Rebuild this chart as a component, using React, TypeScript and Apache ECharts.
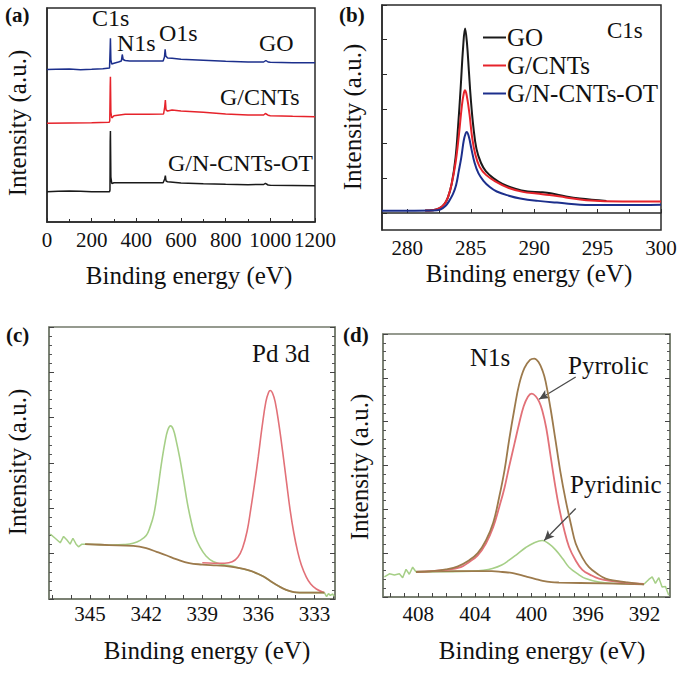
import React, { useEffect, useRef } from "react";
import * as echarts from "echarts";

const FONT = "Liberation Serif";

// ---------- (a) XPS survey spectra: [binding energy eV, intensity a.u.] ----------
const surveyGO: [number, number][] = [
  [0, 152.5], [40, 152.7], [100, 153], [150, 152.3], [200, 152.7], [250, 153.3], [280, 154],
  [283, 175], [284, 183.7], [286, 162], [290, 158], [300, 158.7], [320, 160], [333, 161],
  [337, 167.5], [341, 162.5], [350, 161.5], [370, 161], [450, 161], [520, 161], [526, 165],
  [529, 172.7], [532, 166], [540, 164], [560, 163.7], [600, 162.7], [700, 161.7], [800, 160.7],
  [900, 160], [970, 160], [980, 161.5], [990, 160], [1000, 159.7], [1100, 159.3], [1200, 159.3],
];
const surveyGCNTs: [number, number][] = [
  [0, 98.7], [100, 99], [200, 99.3], [278, 99.7], [281, 101], [283, 135], [284, 145.3],
  [286, 110], [290, 104], [300, 106.3], [350, 107.7], [450, 107.7], [522, 108], [527, 115],
  [530, 122], [533, 112], [540, 111], [560, 112], [600, 111], [700, 109.7], [800, 108],
  [900, 107], [970, 107], [978, 108.5], [990, 106.8], [1000, 106.3], [1100, 105.7], [1200, 105.3],
];
const surveyGNCNTs: [number, number][] = [
  [0, 30.3], [50, 30.7], [100, 31], [150, 30.7], [200, 30.3], [280, 30.3], [282, 32],
  [283, 80], [284, 91], [286, 45], [290, 38.5], [300, 39.3], [400, 39.3], [520, 39.3],
  [527, 43], [530, 46.3], [533, 41], [540, 40.3], [600, 39], [700, 38.3], [800, 37.7],
  [900, 37.3], [970, 37.5], [978, 38.7], [990, 37], [1000, 36.7], [1100, 36.5], [1200, 36.3],
];
const surveyTicks = { min: 0, max: 1200, interval: 200 };

// ---------- (b) C1s high resolution ----------
const c1sGO: [number, number][] = [
  [281.4, 0.07], [282.0, 0.08], [282.5, 0.13], [282.9, 0.25], [283.2, 0.45], [283.5, 0.85],
  [283.8, 1.6], [284.0, 2.5], [284.2, 3.6], [284.4, 4.8], [284.55, 5.32], [284.7, 4.9],
  [284.85, 4.1], [285.0, 3.3], [285.2, 2.5], [285.45, 1.85], [285.8, 1.45], [286.2, 1.2],
  [286.8, 1.0], [287.5, 0.84], [288.5, 0.7], [289.5, 0.62], [290.5, 0.6], [291.3, 0.57],
  [292.5, 0.48], [293.6, 0.42], [295.7, 0.35],
];
const c1sGCNTs: [number, number][] = [
  [281.4, 0.07], [282.0, 0.08], [282.5, 0.13], [282.9, 0.25], [283.2, 0.45], [283.5, 0.85],
  [283.8, 1.45], [284.05, 2.2], [284.3, 3.1], [284.45, 3.45], [284.55, 3.54], [284.7, 3.35],
  [284.9, 2.85], [285.1, 2.2], [285.35, 1.7], [285.7, 1.33], [286.2, 1.1], [287.0, 0.9],
  [288.0, 0.72], [289.1, 0.61], [290.2, 0.56], [291.2, 0.52], [292.5, 0.45], [294.1, 0.37],
  [297, 0.33], [300, 0.33],
];
const c1sGNCNTs: [number, number][] = [
  [278, 0.066], [280, 0.066], [282.0, 0.07], [282.6, 0.1], [283.0, 0.2], [283.3, 0.35],
  [283.6, 0.55], [283.84, 0.8], [284.05, 1.2], [284.25, 1.6], [284.45, 2.1], [284.6, 2.3],
  [284.68, 2.34], [284.85, 2.2], [285.05, 1.85], [285.3, 1.45], [285.6, 1.15], [286.0, 0.93],
  [286.5, 0.75], [287.05, 0.62], [288.0, 0.5], [288.9, 0.42], [290.3, 0.35], [291.8, 0.3],
  [294.4, 0.23], [297, 0.23], [300, 0.24],
];
const c1sLabels = [280, 285, 290, 295, 300];
const c1sTicks = [280, 282.5, 285, 287.5, 290, 292.5, 295, 297.5, 300];
const c1sYTicks = [0, 1, 2, 3, 4, 5, 6];

// ---------- (c) Pd 3d ----------
const pdNoiseLeft: [number, number][] = [
  [347.13, 1.43], [346.87, 1.34], [346.6, 1.24], [346.42, 1.38], [346.24, 1.3], [346.07, 1.21],
  [345.92, 1.34], [345.75, 1.21], [345.62, 1.15], [345.44, 1.21], [345.27, 1.21],
];
const pd3d32: [number, number][] = [
  [345.27, 1.21], [344.5, 1.2], [343.8, 1.19], [343.2, 1.2], [342.7, 1.23], [342.3, 1.3],
  [342.0, 1.4], [341.8, 1.58], [341.6, 1.85], [341.4, 2.35], [341.2, 2.95], [341.0, 3.45],
  [340.85, 3.72], [340.7, 3.82], [340.55, 3.74], [340.4, 3.5], [340.2, 3.1], [340.0, 2.62],
  [339.8, 2.12], [339.6, 1.72], [339.4, 1.4], [339.13, 1.15], [338.8, 0.95], [338.4, 0.82],
  [337.9, 0.76], [337.5, 0.73], [337.0, 0.68], [336.5, 0.63], [336.11, 0.57], [335.7, 0.49],
  [335.3, 0.38], [334.9, 0.28], [334.51, 0.2], [334.1, 0.15], [333.8, 0.14], [332.47, 0.14],
];
const pd3d52: [number, number][] = [
  [339.0, 0.8], [338.4, 0.79], [337.8, 0.79], [337.4, 0.82], [337.1, 0.92], [336.85, 1.12],
  [336.6, 1.5], [336.4, 2.0], [336.2, 2.55], [336.0, 3.15], [335.8, 3.8], [335.6, 4.35],
  [335.45, 4.56], [335.36, 4.6], [335.25, 4.55], [335.1, 4.35], [334.9, 3.85], [334.7, 3.25],
  [334.5, 2.6], [334.3, 1.96], [334.1, 1.45], [333.9, 1.05], [333.7, 0.75], [333.44, 0.49],
  [333.2, 0.33], [332.9, 0.22], [332.47, 0.14],
];
const pdBackground: [number, number][] = [
  [345.27, 1.21], [344.0, 1.19], [342.69, 1.17], [342.0, 1.12], [341.44, 1.04], [340.9, 0.96],
  [340.4, 0.88], [339.7, 0.79], [339.0, 0.76], [338.24, 0.74], [337.6, 0.72], [337.0, 0.68],
  [336.5, 0.63], [336.11, 0.57], [335.7, 0.49], [335.3, 0.38], [334.9, 0.28], [334.51, 0.2],
  [334.1, 0.15], [333.8, 0.14], [332.47, 0.14],
];
const pdNoiseRight: [number, number][] = [
  [332.47, 0.14], [332.35, 0.05], [332.25, 0.12], [332.15, 0.08], [332.02, 0.11], [331.95, 0.06],
];
const pdLabels = [345, 342, 339, 336, 333];
const pdTicks = [332, 333, 334, 335, 336, 337, 338, 339, 340, 341, 342, 343, 344, 345, 346, 347];

// ---------- (d) N1s ----------
const n1sNoiseLeft: [number, number][] = [
  [410.4, 0.46], [410.05, 0.53], [409.69, 0.5], [409.34, 0.53], [409.11, 0.44], [408.87, 0.63],
  [408.64, 0.52], [408.4, 0.68], [408.16, 0.57],
];
const n1sNoiseRight: [number, number][] = [
  [392.05, 0.29], [391.7, 0.4], [391.46, 0.46], [391.23, 0.31], [390.99, 0.44], [390.76, 0.23],
  [390.52, 0.24], [390.29, 0.04],
];
const n1sEnvelope: [number, number][] = [
  [408.16, 0.57], [407.0, 0.59], [406.05, 0.63], [405.2, 0.7], [404.4, 0.84], [403.8, 1.0],
  [403.22, 1.29], [402.7, 1.7], [402.28, 2.28], [401.9, 2.9], [401.58, 3.58], [401.2, 4.3],
  [400.87, 4.85], [400.5, 5.22], [400.1, 5.41], [399.8, 5.44], [399.5, 5.36], [399.2, 5.15],
  [399.0, 4.92], [398.65, 4.3], [398.3, 3.58], [397.95, 2.85], [397.58, 2.21], [397.2, 1.65],
  [396.87, 1.22], [396.4, 0.9], [395.93, 0.68], [395.3, 0.52], [394.75, 0.42], [394.0, 0.37],
  [393.34, 0.34], [392.05, 0.29],
];
const n1sPyrrolic: [number, number][] = [
  [408.16, 0.57], [406.05, 0.62], [405.0, 0.68], [404.4, 0.8], [403.8, 0.95], [403.22, 1.22],
  [402.7, 1.6], [402.28, 2.05], [401.9, 2.5], [401.58, 2.97], [401.2, 3.5], [400.87, 3.96],
  [400.55, 4.35], [400.25, 4.57], [399.98, 4.64], [399.7, 4.58], [399.45, 4.45], [399.23, 4.25],
  [398.95, 3.85], [398.64, 3.2], [398.35, 2.6], [398.05, 2.05], [397.7, 1.55], [397.34, 1.14],
  [396.9, 0.85], [396.4, 0.62], [395.8, 0.5], [395.23, 0.42], [394.2, 0.36], [393.34, 0.33],
  [392.05, 0.3],
];
const n1sPyridinic: [number, number][] = [
  [408.16, 0.57], [406.5, 0.58], [405.6, 0.58], [404.17, 0.59], [403.4, 0.61], [402.76, 0.65],
  [402.1, 0.73], [401.58, 0.84], [401.0, 0.98], [400.4, 1.13], [399.8, 1.24], [399.23, 1.29],
  [398.75, 1.21], [398.28, 1.07], [397.8, 0.88], [397.34, 0.68], [396.7, 0.52], [396.17, 0.42],
  [395.23, 0.34], [394.0, 0.31], [392.05, 0.29],
];
const n1sBackground: [number, number][] = [
  [408.16, 0.58], [404.0, 0.59], [402.8, 0.59], [402.05, 0.57], [401.4, 0.55], [400.87, 0.51],
  [400.3, 0.46], [399.7, 0.41], [399.2, 0.37], [398.6, 0.34], [398.05, 0.33], [395.0, 0.31],
  [392.05, 0.29],
];
const n1sLabels = [408, 404, 400, 396, 392];
const n1sTicks = [391, 392, 393, 394, 395, 396, 397, 398, 399, 400, 401, 402, 403, 404, 405, 406, 407, 408, 409, 410];
const arrowPyrrolic: [number, number][] = [[396.87, 5.02], [399.46, 4.51]];
const arrowPyridinic: [number, number][] = [[396.87, 2.02], [399.1, 1.29]];

// ---------- styling ----------
const BLUE = "#1c2f8c";
const RED = "#e6232b";
const BLACK = "#1a1a1a";
const FIT_GREEN = "#a6cf87";
const FIT_RED = "#e27178";
const FIT_BROWN = "#9c7a4c";
const BOX_DARK = "#2a2a2a";
const BOX_GREEN = "#737a6b";

const txt = (text: string, x: number, y: number, size: number, extra: any = {}) => ({
  type: "text",
  x,
  y,
  rotation: extra.rotation || 0,
  silent: true,
  style: {
    text,
    fontSize: size,
    fontFamily: FONT,
    fontWeight: extra.bold ? "bold" : "normal",
    fill: "#111",
    align: extra.align || "left",
    verticalAlign: "middle",
  },
});

const tickLabel = (margin: number) => ({
  fontSize: 21,
  color: "#111",
  fontFamily: FONT,
  margin,
  formatter: (v: number) => String(v),
});

const line = (name: string, data: [number, number][], idx: number, color: string, width: number, smooth: number | boolean, extra: any = {}) => ({
  type: "line",
  name,
  data,
  xAxisIndex: idx,
  yAxisIndex: extra.yIndex ?? idx,
  symbol: "none",
  showSymbol: false,
  smooth,
  lineStyle: { color, width },
  itemStyle: { color },
  z: extra.z ?? 2,
  silent: true,
  ...(extra.markLine ? { markLine: extra.markLine } : {}),
});

const boxY = (gridIndex: number, color: string, position: "left" | "right") => ({
  gridIndex,
  type: "value",
  position,
  min: 0,
  max: 6,
  interval: 1,
  axisLine: { show: true, lineStyle: { color, width: 1.5 } },
  axisTick: { show: true, inside: true, length: 5, lineStyle: { color: "#444" } },
  minorTick: { show: true, inside: true, splitNumber: 5, length: 3, lineStyle: { color: "#555" } },
  axisLabel: { show: false },
  splitLine: { show: false },
  minorSplitLine: { show: false },
});

const option: any = {
  animation: false,
  backgroundColor: "#fff",
  grid: [
    { left: 47, top: 8, width: 268, height: 214, show: true, borderColor: BOX_DARK, borderWidth: 1.5 },
    { left: 382, top: 5, width: 279, height: 225, show: true, borderColor: BOX_DARK, borderWidth: 1.5 },
    { left: 49, top: 327, width: 286, height: 272, show: true, borderColor: BOX_GREEN, borderWidth: 1.5 },
    { left: 383, top: 334, width: 287, height: 263, show: true, borderColor: BOX_GREEN, borderWidth: 1.5 },
  ],
  xAxis: [
    {
      gridIndex: 0,
      type: "value",
      min: surveyTicks.min,
      max: surveyTicks.max,
      interval: surveyTicks.interval,
      axisLine: { show: true, lineStyle: { color: BOX_DARK, width: 1.5 } },
      axisTick: { show: true, inside: true, length: 4, lineStyle: { color: BOX_DARK } },
      minorTick: { show: true, splitNumber: 2, length: 3, lineStyle: { color: BOX_DARK } },
      axisLabel: { ...tickLabel(7), showMaxLabel: true, showMinLabel: true, hideOverlap: false },
      splitLine: { show: false },
      minorSplitLine: { show: false },
    },
    {
      gridIndex: 1,
      type: "value",
      min: 278,
      max: 300,
      axisLine: { show: true, lineStyle: { color: BOX_DARK, width: 1.5 } },
      axisTick: { show: true, inside: true, length: 4, customValues: c1sTicks, lineStyle: { color: BOX_DARK } },
      axisLabel: { ...tickLabel(7), customValues: c1sLabels },
      splitLine: { show: false },
    },
    {
      gridIndex: 2,
      type: "value",
      inverse: true,
      min: 331.9,
      max: 347.2,
      axisLine: { show: true, lineStyle: { color: BOX_GREEN, width: 1.5 } },
      axisTick: { show: true, inside: true, length: 4, customValues: pdTicks, lineStyle: { color: "#444" } },
      axisLabel: { ...tickLabel(4), customValues: pdLabels },
      splitLine: { show: false },
    },
    {
      gridIndex: 3,
      type: "value",
      inverse: true,
      min: 390.2,
      max: 410.5,
      axisLine: { show: true, lineStyle: { color: BOX_GREEN, width: 1.5 } },
      axisTick: { show: true, inside: true, length: 4, customValues: n1sTicks, lineStyle: { color: "#444" } },
      axisLabel: { ...tickLabel(6), customValues: n1sLabels },
      splitLine: { show: false },
    },
  ],
  yAxis: [
    {
      gridIndex: 0,
      type: "value",
      min: 0,
      max: 214,
      axisLine: { show: true, lineStyle: { color: BOX_DARK, width: 1.5 } },
      axisTick: { show: false },
      axisLabel: { show: false },
      splitLine: { show: false },
    },
    {
      gridIndex: 1,
      type: "value",
      min: -0.49,
      max: 6.0,
      axisLine: { show: true, lineStyle: { color: BOX_DARK, width: 1.5 } },
      axisTick: { show: true, inside: true, length: 5, customValues: c1sYTicks, lineStyle: { color: BOX_DARK } },
      axisLabel: { show: false },
      splitLine: { show: false },
    },
    boxY(2, BOX_GREEN, "left"),
    boxY(2, BOX_GREEN, "right"),
    boxY(3, BOX_GREEN, "left"),
    boxY(3, BOX_GREEN, "right"),
  ],
  legend: {
    show: true,
    orient: "vertical",
    left: 478,
    top: 20,
    icon: "rect",
    itemWidth: 23,
    itemHeight: 2,
    itemGap: 3,
    selectedMode: false,
    data: ["GO", "G/CNTs", "G/N-CNTs-OT"],
    textStyle: { fontSize: 25, fontFamily: FONT, color: "#111", lineHeight: 25, padding: [0, 0, 0, -4] },
  },
  series: [
    // (a)
    line("GO survey", surveyGO, 0, BLUE, 1.5, false),
    line("G/CNTs survey", surveyGCNTs, 0, RED, 1.5, false),
    line("G/N-CNTs-OT survey", surveyGNCNTs, 0, BLACK, 1.5, false),
    // (b)
    line("GO", c1sGO, 1, BLACK, 2, 0.4),
    line("G/CNTs", c1sGCNTs, 1, RED, 2, 0.4),
    line("G/N-CNTs-OT", c1sGNCNTs, 1, BLUE, 2, 0.4),
    // (c)
    line("Pd noise left", pdNoiseLeft, 2, FIT_GREEN, 1.5, false, { yIndex: 2 }),
    line("Pd noise right", pdNoiseRight, 2, FIT_GREEN, 1.5, false, { yIndex: 2 }),
    line("Pd 3d3/2", pd3d32, 2, FIT_GREEN, 1.6, 0.4, { yIndex: 2 }),
    line("Pd 3d5/2", pd3d52, 2, FIT_RED, 1.6, 0.4, { yIndex: 2, z: 3 }),
    line("Pd background", pdBackground, 2, FIT_BROWN, 1.8, 0.4, { yIndex: 2, z: 4 }),
    // (d)
    line("N1s noise left", n1sNoiseLeft, 3, FIT_GREEN, 1.5, false, { yIndex: 4 }),
    line("N1s noise right", n1sNoiseRight, 3, FIT_GREEN, 1.5, false, { yIndex: 4 }),
    line("N1s background", n1sBackground, 3, FIT_BROWN, 1.8, 0.4, { yIndex: 4, z: 3 }),
    line("Pyridinic fit", n1sPyridinic, 3, FIT_GREEN, 1.6, 0.4, { yIndex: 4, z: 2 }),
    line("Pyrrolic fit", n1sPyrrolic, 3, FIT_RED, 1.8, 0.4, {
      yIndex: 4,
      z: 4,
      markLine: {
        silent: true,
        symbol: ["none", "arrow"],
        symbolSize: [7, 10],
        label: { show: false },
        lineStyle: { color: "#4a4a4a", width: 1.3, type: "solid" },
        data: [
          [{ coord: arrowPyrrolic[0] }, { coord: arrowPyrrolic[1] }],
          [{ coord: arrowPyridinic[0] }, { coord: arrowPyridinic[1] }],
        ],
      },
    }),
    line("N1s envelope", n1sEnvelope, 3, FIT_BROWN, 1.8, 0.4, { yIndex: 4, z: 5 }),
  ],
  graphic: [
    // panel letters
    txt("(a)", 5, 15, 21, { bold: true }),
    txt("(b)", 339, 15, 21, { bold: true }),
    txt("(c)", 6, 335, 21, { bold: true }),
    txt("(d)", 343, 335, 21, { bold: true }),
    // (a) annotations
    txt("C1s", 92, 18, 24),
    txt("N1s", 117, 43, 24),
    txt("O1s", 159, 33, 24),
    txt("GO", 259, 43, 24),
    txt("G/CNTs", 220, 97, 24),
    txt("G/N-CNTs-OT", 168, 163, 24),
    // (b)
    txt("C1s", 607, 30, 23),
    // (c)
    txt("Pd 3d", 252, 353, 25),
    // (d)
    txt("N1s", 470, 357, 25),
    txt("Pyrrolic", 568, 365, 25),
    txt("Pyridinic", 570, 484, 25),
    // axis titles
    txt("Binding energy (eV)", 189, 275, 25, { align: "center" }),
    txt("Binding energy (eV)", 529, 273, 25, { align: "center" }),
    txt("Binding energy (eV)", 207, 650, 25, { align: "center" }),
    txt("Binding energy (eV)", 542, 650, 25, { align: "center" }),
    txt("Intensity (a.u.)", 17, 123, 25, { align: "center", rotation: Math.PI / 2 }),
    txt("Intensity (a.u.)", 352, 117, 25, { align: "center", rotation: Math.PI / 2 }),
    txt("Intensity (a.u.)", 17, 462, 25, { align: "center", rotation: Math.PI / 2 }),
    txt("Intensity (a.u.)", 359, 467, 25, { align: "center", rotation: Math.PI / 2 }),
  ],
};

export default function App() {
  const ref = useRef<HTMLDivElement>(null);
  useEffect(() => {
    if (!ref.current) return;
    const chart = echarts.init(ref.current, null, { renderer: "svg" });
    chart.setOption(option);
    return () => chart.dispose();
  }, []);
  return (
    <div
      ref={ref}
      style={{ position: "fixed", left: 0, top: 0, width: 685, height: 675, background: "#fff" }}
    />
  );
}
